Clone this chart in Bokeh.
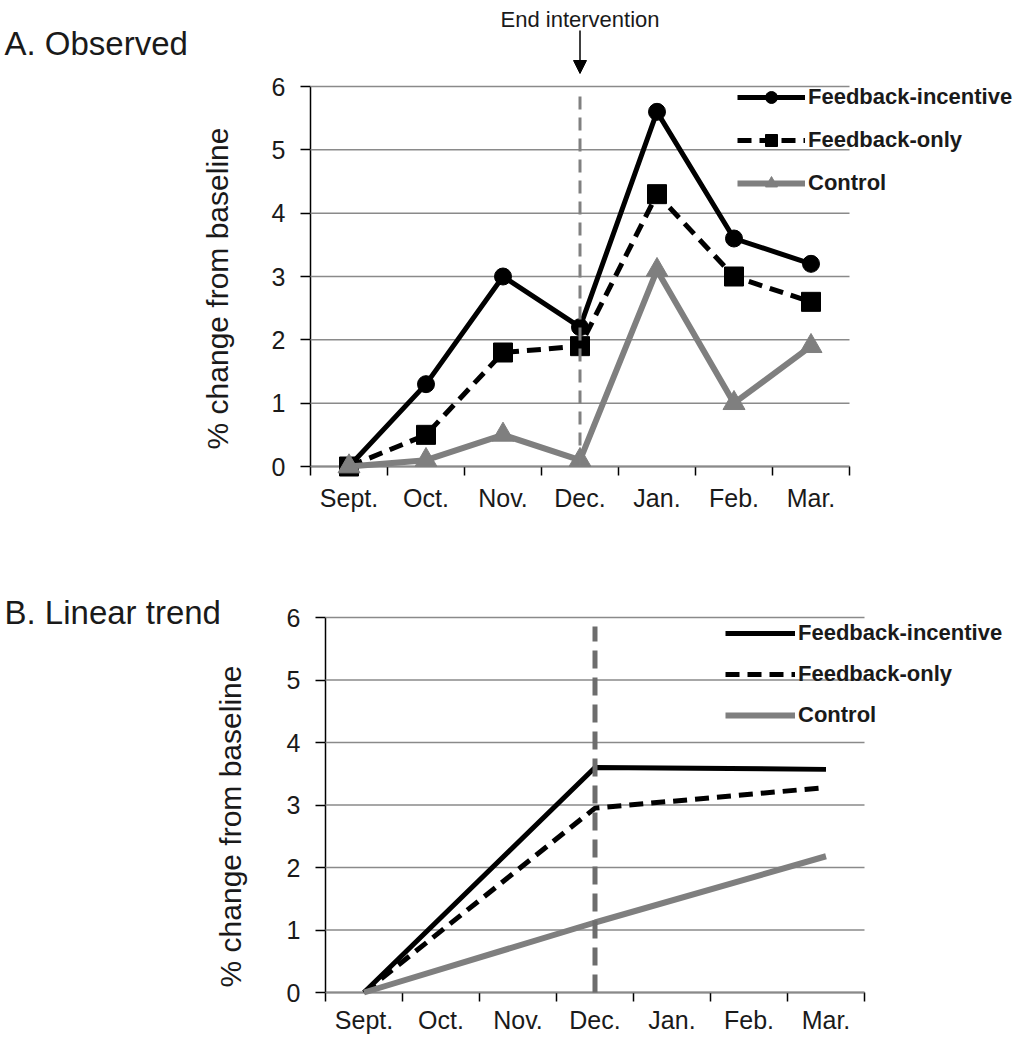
from bokeh.plotting import figure
from bokeh.models import (Range1d, FixedTicker, Label, Arrow, NormalHead, Legend,
                          LegendItem, LinearAxis)
from bokeh.layouts import column
from bokeh.embed import file_html
from bokeh.resources import INLINE

# ---------------- data ----------------
months = ["Sept.", "Oct.", "Nov.", "Dec.", "Jan.", "Feb.", "Mar."]
y_ticks = [0, 1, 2, 3, 4, 5, 6]
series_names = ["Feedback-incentive", "Feedback-only", "Control"]

obs_feedback_incentive = [0.0, 1.3, 3.0, 2.2, 5.6, 3.6, 3.2]
obs_feedback_only = [0.0, 0.5, 1.8, 1.9, 4.3, 3.0, 2.6]
obs_control = [0.0, 0.1, 0.5, 0.1, 3.1, 1.0, 1.9]

trend_months = ["Sept.", "Dec.", "Mar."]
trend_feedback_incentive = [0.0, 3.6, 3.57]
trend_feedback_only = [0.0, 2.95, 3.28]
trend_control = [0.0, 1.12, 2.18]

intervention_end = "Dec."

# ---------------- style / layout ----------------
FONT = "Liberation Sans"
TXT = "#1a1a1a"
GRAY = "#7f7f7f"
W = 1017
HA = 540
HB = 1034 - HA
YLABEL_GAP = 25   # px between y axis line and right edge of its tick labels


def xpos(labels):
    return [months.index(m) for m in labels]


class Panel:
    """A figure whose whole canvas is the plotting frame; axes are placed
    at fixed data locations so texts outside the axes box are not clipped."""

    def __init__(self, height, xl, xr, yt, yb, xlabel_standoff):
        n = len(months)
        self.h = height
        self.ux = (xr - xl) / n
        self.uy = (yb - yt) / (y_ticks[-1] - y_ticks[0])
        x0 = -0.5 - xl / self.ux
        y0 = y_ticks[0] - (height - yb) / self.uy
        p = figure(width=W, height=height, output_backend="svg", toolbar_location=None,
                   x_range=Range1d(x0, x0 + W / self.ux),
                   y_range=Range1d(y0, y0 + height / self.uy),
                   x_axis_location=None, y_axis_location=None,
                   min_border=0)
        p.min_border_left = p.min_border_right = p.min_border_top = p.min_border_bottom = 0
        p.title.visible = False
        p.outline_line_color = None
        p.background_fill_color = "white"
        p.xgrid.visible = False
        p.ygrid.visible = False
        self.p = p
        self.yb = yb
        lo, hi = -0.5, n - 0.5
        # horizontal gridlines
        p.segment(x0=[lo] * len(y_ticks), y0=y_ticks, x1=[hi] * len(y_ticks), y1=y_ticks,
                  line_color="#8a8a8a", line_width=1.5)

        xa = LinearAxis(fixed_location=y_ticks[0], bounds=(lo, hi),
                        ticker=FixedTicker(ticks=list(range(n)),
                                           minor_ticks=[i - 0.5 for i in range(n + 1)]),
                        major_label_overrides={i: m for i, m in enumerate(months)})
        xa.major_tick_line_color = None
        xa.major_tick_out = 0
        xa.major_tick_in = 0
        xa.minor_tick_line_color = "black"
        xa.minor_tick_line_width = 1.5
        xa.minor_tick_out = 9
        xa.minor_tick_in = 0
        xa.major_label_standoff = xlabel_standoff
        xa.major_label_text_font = FONT
        xa.major_label_text_font_size = "25px"
        xa.major_label_text_color = TXT

        ya = LinearAxis(fixed_location=lo, bounds=(y_ticks[0], y_ticks[-1]),
                        ticker=FixedTicker(ticks=y_ticks))
        ya.major_tick_out = 10
        ya.major_tick_in = 0
        ya.major_tick_line_width = 1.5
        ya.major_tick_line_color = "black"
        ya.minor_tick_line_color = None
        ya.major_label_text_color = None

        for ax in (xa, ya):
            ax.level = "underlay"
            ax.axis_line_color = "black"
            ax.axis_line_width = 1.5
        p.add_layout(xa, "below")
        p.add_layout(ya, "left")

        # y tick labels, right-aligned left of the axis, placed through the data scales
        lab_x = lo - YLABEL_GAP / self.ux
        for t in y_ticks:
            p.add_layout(Label(x=lab_x, y=t, text=str(t), text_align="right",
                               text_baseline="middle", text_font=FONT,
                               text_font_size="25px", text_color=TXT))

    def sy(self, ypix):
        """screen y (from the bottom) of a pixel row counted from the top"""
        return self.h - ypix

    def ydata(self, ypix):
        return y_ticks[0] + (self.yb - ypix) / self.uy

    def text(self, text, x, ypix, size, angle=0, align="left", baseline="alphabetic",
             x_units="screen"):
        self.p.add_layout(Label(x=x, y=self.sy(ypix), x_units=x_units, y_units="screen",
                                text=text, text_font=FONT, text_font_size=size,
                                text_color=TXT, text_align=align,
                                text_baseline=baseline, angle=angle))

    def legend(self, items, x, ytop, glyph_w, spacing):
        gh = 30
        h = len(items) * gh + (len(items) - 1) * spacing
        leg = Legend(items=[LegendItem(label=n, renderers=r) for n, r in items],
                     location=(x, self.sy(ytop + h)), orientation="vertical",
                     glyph_width=glyph_w, glyph_height=gh, label_height=gh,
                     spacing=spacing, padding=0, margin=0, label_standoff=3,
                     border_line_color=None, background_fill_alpha=0,
                     label_text_font=FONT, label_text_font_size="22px",
                     label_text_font_style="bold", label_text_color=TXT)
        self.p.add_layout(leg)


dec = months.index(intervention_end)

# ---------------- panel A ----------------
A = Panel(HA, xl=310, xr=849, yt=86, yb=466, xlabel_standoff=8)
pa = A.p
xs = list(range(len(months)))

l1 = pa.line(xs, obs_feedback_incentive, line_color="black", line_width=5)
s1 = pa.scatter(xs, obs_feedback_incentive, marker="circle", size=17, color="black")
l2 = pa.line(xs, obs_feedback_only, line_color="black", line_width=5, line_dash="14 8")
s2 = pa.scatter(xs, obs_feedback_only, marker="square", size=19, color="black")
l3 = pa.line(xs, obs_control, line_color=GRAY, line_width=6)
s3 = pa.scatter(xs, obs_control, marker="triangle", size=22, color=GRAY)
pa.segment(x0=[dec], y0=[y_ticks[0]], x1=[dec], y1=[A.ydata(89)],
           line_color="#808080", line_width=3, line_dash="13 8")

A.legend([(series_names[0], [l1, s1]), (series_names[1], [l2, s2]),
          (series_names[2], [l3, s3])], x=737, ytop=82, glyph_w=68, spacing=13)

A.text("A. Observed", 4, 43, "33px")
A.text("% change from baseline", 217, 288, "30px", angle=1.5708,
       align="center", baseline="middle")
A.text("End intervention", dec, 19, "22px", align="center", x_units="data")
pa.add_layout(Arrow(x_start=dec, y_start=A.ydata(30), x_end=dec, y_end=A.ydata(73),
                    line_color="black", line_width=1.5,
                    end=NormalHead(size=13, fill_color="black", line_color="black")))

# ---------------- panel B ----------------
B = Panel(HB, xl=325, xr=864, yt=617 - HA, yb=992 - HA, xlabel_standoff=4)
pb = B.p
tx = xpos(trend_months)
m1 = pb.line(tx, trend_feedback_incentive, line_color="black", line_width=5)
m2 = pb.line(tx, trend_feedback_only, line_color="black", line_width=5, line_dash="14 8")
m3 = pb.line(tx, trend_control, line_color=GRAY, line_width=6)
pb.segment(x0=[dec], y0=[y_ticks[0]], x1=[dec], y1=[B.ydata(626 - HA)],
           line_color="#6d6d6d", line_width=5, line_dash="18 9")

B.legend([(series_names[0], [m1]), (series_names[1], [m2]),
          (series_names[2], [m3])], x=725, ytop=618 - HA, glyph_w=70, spacing=11)

B.text("B. Linear trend", 4, 612 - HA, "33px")
B.text("% change from baseline", 230, 826 - HA, "30px", angle=1.5708,
       align="center", baseline="middle")

layout = column(pa, pb, spacing=0)
open("out.html", "w").write(file_html(layout, INLINE))
